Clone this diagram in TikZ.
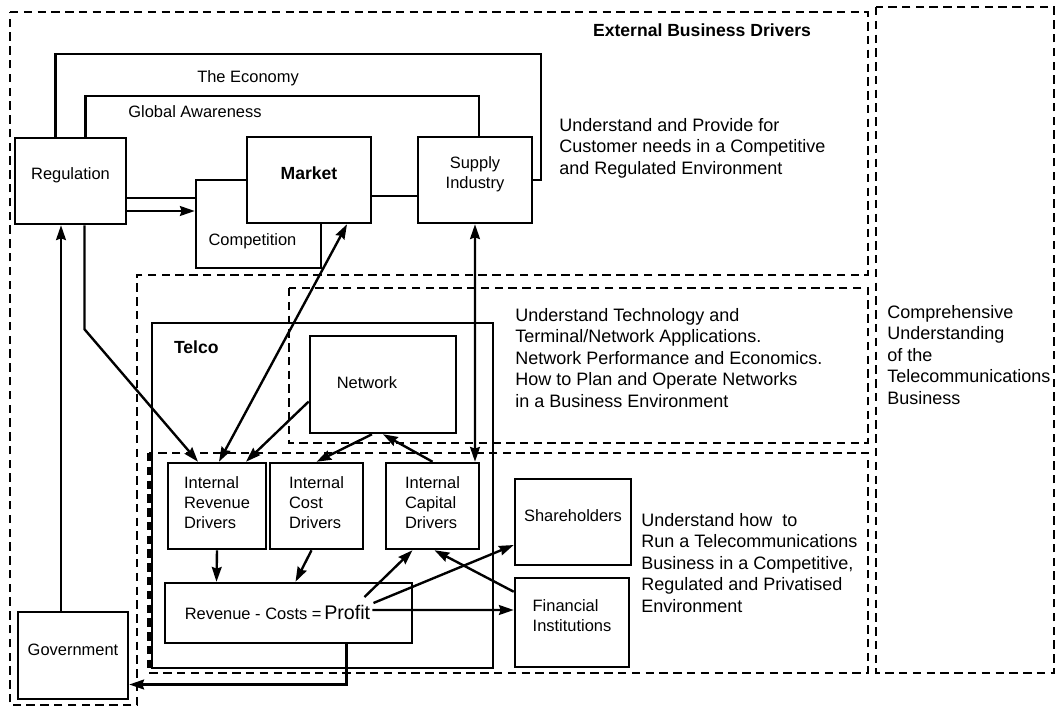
\documentclass[tikz,border=0pt]{standalone}
\usepackage{fontspec}
\setmainfont{Liberation Sans}
\usetikzlibrary{arrows.meta}
\usetikzlibrary{fit}

\begin{document}
\begin{tikzpicture}[
    x=0.025cm, y=-0.025cm,
    >={Stealth[length=10.5pt,width=7pt,inset=1.2pt]},
    box/.style={draw, line width=1.8pt, fill=white, inner sep=0pt, align=center,
      font=\fontsize{11.7}{14}\selectfont},
    boxtext/.style={inner sep=0pt, align=left, font=\fontsize{11.7}{14}\selectfont},
    region/.style={draw, line width=1.6pt, dash pattern=on 6pt off 3.8pt},
    link/.style={line width=1.7pt},
    note/.style={align=left, anchor=west, inner sep=0pt, font=\fontsize{12.8}{15.3}\selectfont},
    title/.style={inner sep=0pt, font=\fontsize{12.5}{15}\selectfont\bfseries}
    ]

    \useasboundingbox (0,0) rectangle (1057,709);

    % dashed regions
    \draw[region] (10,12) -- (868,12) -- (868,275) -- (137,275) -- (137,705) -- (10,705) -- cycle;
    \draw[region] (289,288) rectangle (868,443);
    \draw[region] (149,453) rectangle (868,673);
    \draw[region, line width=3.2pt] (149,453) -- (149,673);
    \draw[region] (876,7) rectangle (1054,673);

    % external drivers
    \node[box, fit={(15,138) (126,224)}] (reg) {Regulation};
    \node[box, fit={(196,180) (321,268)},
      label={[boxtext, xshift=-0.15cm, yshift=-0.425cm]center:Competition}] (comp) {};
    \node[box, fit={(247,137) (371,223)}, font=\fontsize{12.5}{15}\selectfont\bfseries] (market) {Market};
    \node[box, fit={(418,137) (532,223)}] (supply) {Supply\\Industry};

    % telco
    \node[box, fill=none, fit={(152,323) (493,668)}] (telco) {};
    \node[title, anchor=west] at ([shift={(23,25)}]telco.north west) {Telco};
    \node[box, fit={(310,336) (456,433)},
      label={[boxtext, xshift=-0.4cm, yshift=0.05cm]center:Network}] (network) {};
    \node[box, fit={(168,463) (266,549)},
      label={[boxtext, yshift=0.08cm]center:Internal\\Revenue\\Drivers}] (rev) {};
    \node[box, fit={(270,463) (363,549)},
      label={[boxtext, yshift=0.08cm]center:Internal\\Cost\\Drivers}] (cost) {};
    \node[box, fit={(386,463) (479,549)},
      label={[boxtext, yshift=0.08cm]center:Internal\\Capital\\Drivers}] (cap) {};
    \node[box, fit={(165,583) (412,643)}] (profit) {};
    \node[boxtext] (eq) at (277.5,612) {Revenue - Costs =\,{\fontsize{14}{16}\selectfont Profit}};

    % outside the telco
    \node[box, fit={(515,479) (631,565)}] (share) {Shareholders};
    \node[box, fit={(515,578) (629,667)},
      label={[boxtext, yshift=0.18cm]center:Financial\\Institutions}] (fin) {};
    \node[box, fit={(18,612) (128,699)}] (gov) {Government};

    % texts
    \node[title] at (702,30) {External Business Drivers};
    \node[note] at (559,148) {Understand and Provide for\\Customer needs in a Competitive\\and Regulated Environment};
    \node[note] at (515,358) {Understand Technology and\\Terminal/Network Applications.\\Network Performance and Economics.\\How to Plan and Operate Networks\\in a Business Environment};
    \node[note] at (641,563) {Understand how\ \ to\\Run a Telecommunications\\Business in a Competitive,\\Regulated and Privatised\\Environment};
    \node[note] at (887,355) {Comprehensive\\Understanding\\of the\\Telecommunications\\Business};

    % lines between the drivers
    \draw[link] ([shift={(-15,0)}]reg.north) -- ++(0,-83) -| ([shift={(8,0)}]supply.east) -- (supply.east);
    \draw[link] ([shift={(15,0)}]reg.north) -- ++(0,-41) -| ([shift={(4,0)}]supply.north);
    \node[boxtext] at (248,78) {The Economy};
    \node[boxtext] at (195,112) {Global Awareness};
    \draw[link] ([shift={(0,17)}]reg.east) -- ([shift={(0,-26)}]comp.west);
    \draw[link, ->] ([shift={(0,30)}]reg.east) -- ([shift={(0,-13)}]comp.west);
    \draw[link] ([shift={(0,16)}]market.east) -- ([shift={(0,16)}]supply.west);

    % arrows
    \draw[link, ->] ([shift={(-12,0)}]gov.north) -- ([shift={(-9.5,0)}]reg.south);
    \draw[link, ->] ([shift={(14,0)}]reg.south) -- ++(0,104) -- ([shift={(-19,0)}]rev.north);
    \draw[link, <->] ([shift={(38,0)}]market.south) -- ([shift={(2,0)}]rev.north);
    \draw[link, <->] (supply.south) -- ([shift={(42.5,0)}]cap.north);
    \draw[link, ->] ([shift={(0,17)}]network.west) -- ([shift={(29,0)}]rev.north);
    \draw[link, ->] ([shift={(-11,0)}]network.south) -- (cost.north);
    \draw[link, ->] (cap.north) -- (network.south);
    \draw[link, ->] (rev.south) -- ([shift={(-72,0)}]profit.north);
    \draw[link, ->] ([shift={(-5,0)}]cost.south) -- ([shift={(7,0)}]profit.north);
    \draw[link, ->] ([shift={(-6,-15)}]eq.east) -- ([shift={(-20,0)}]cap.south);
    \draw[link, ->] ([shift={(3,-9)}]eq.east) -- ([shift={(0,23)}]share.west);
    \draw[link, ->] ([shift={(2,-2)}]eq.east) -- ([shift={(0,-12.5)}]fin.west);
    \draw[link, ->] ([shift={(0,15)}]fin.north west) -- ([shift={(2,0)}]cap.south);
    \draw[link, ->] ([shift={(58,0)}]profit.south) |- ([shift={(0,29)}]gov.east);

  \end{tikzpicture}
\end{document}
